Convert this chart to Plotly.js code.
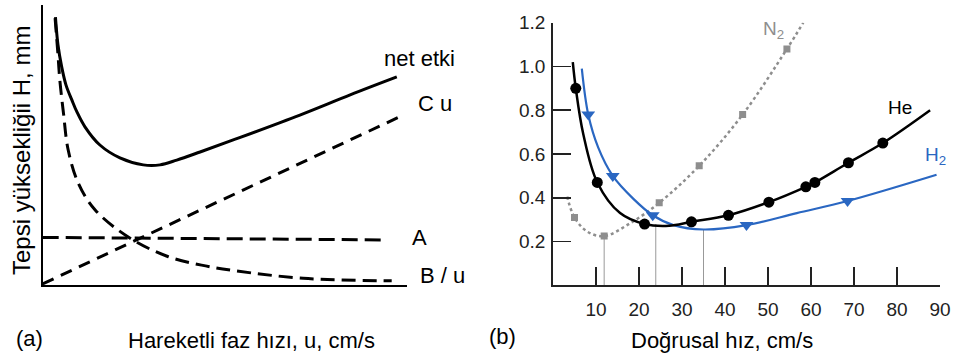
<!DOCTYPE html>
<html>
<head>
<meta charset="utf-8">
<script src="https://cdn.plot.ly/plotly-3.0.1.min.js"></script>
<style>
html,body{margin:0;padding:0;background:#fff;}
#chart{width:956px;height:356px;}
</style>
</head>
<body>
<div id="chart"></div>
<script>
// ---------- Panel (a): conceptual van Deemter terms (arbitrary units) ----------
const aNetU = [0.35,0.42,0.52,0.64,0.80,0.94,1.16,1.57,2.12,2.76,3.22,3.68,4.32,5.23,7.06,8.44,9.72];
const aNetH = [9.57,8.57,7.80,7.14,6.61,6.18,5.65,5.00,4.54,4.29,4.29,4.46,4.75,5.18,6.07,6.79,7.43];
const aBU = [0.34,0.42,0.47,0.57,0.70,0.98,1.44,2.40,3.45,4.36,5.28,7.15,9.58];
const aBH = [9.53,8.21,7.32,6.14,4.82,3.63,2.68,1.67,1.01,0.71,0.51,0.24,0.15];
const aAU = [0, 9.44];
const aAH = [1.70, 1.61];
const aCU = [0, 9.90];
const aCH = [0.04, 6.07];
const aLabels = ["net etki", "C u", "A", "B / u"];

// ---------- Panel (b): measured curves, linear velocity (cm/s) vs H (mm) ----------
const heLineX = [4.6,5.3,7.05,10.3,15.6,21.3,27,32.2,40.8,50.2,58.8,60.9,68.7,76.7,87.7];
const heLineY = [1.02,0.90,0.69,0.47,0.33,0.28,0.272,0.29,0.32,0.38,0.45,0.47,0.56,0.65,0.80];
const heMarkX = [5.3,10.3,21.3,32.2,40.8,50.2,58.8,60.9,68.7,76.7];
const heMarkY = [0.90,0.47,0.28,0.29,0.32,0.38,0.45,0.47,0.56,0.65];

const h2LineX = [6.7,8.2,10.5,13.9,18.7,23.2,28,35,45,56.7,68.5,89.2];
const h2LineY = [0.99,0.78,0.63,0.50,0.395,0.32,0.275,0.255,0.275,0.33,0.385,0.505];
const h2MarkX = [8.2,13.9,23.2,45,68.5];
const h2MarkY = [0.78,0.50,0.32,0.275,0.385];

const n2LineX = [3.3,5.0,8,11.9,17.9,24.7,34,44.1,54.4,58.2];
const n2LineY = [0.405,0.31,0.245,0.225,0.283,0.377,0.546,0.78,1.08,1.2];
const n2MarkX = [5.0,11.9,24.7,34,44.1,54.4];
const n2MarkY = [0.31,0.225,0.377,0.546,0.78,1.08];

// optimum velocity drop lines
const optX = [11.9, 23.9, 35];
const optY = [0.225, 0.28, 0.255];

const bXTicks = [10,20,30,40,50,60,70,80,90];
const bYTicks = [0.2,0.4,0.6,0.8,1.0,1.2];
const bYTickText = ["0.2","0.4","0.6","0.8","1.0","1.2"];

const W = 956, Hh = 356;
const px = x => x / W;
const py = y => 1 - y / Hh;
const FONT = "Liberation Sans, Arial, sans-serif";
const BLUE = "#2a67c2";
const GRAY = "#8e8e8e";

const traces = [];
// panel a
traces.push({x:aNetU, y:aNetH, xaxis:'x', yaxis:'y', mode:'lines', line:{color:'#000', width:3, shape:'spline', smoothing:1}, hoverinfo:'skip'});
traces.push({x:aBU, y:aBH, xaxis:'x', yaxis:'y', mode:'lines', line:{color:'#000', width:3, dash:'14px,7px', shape:'spline', smoothing:1}, hoverinfo:'skip'});
traces.push({x:aAU, y:aAH, xaxis:'x', yaxis:'y', mode:'lines', line:{color:'#000', width:3, dash:'16px,7px'}, hoverinfo:'skip'});
traces.push({x:aCU, y:aCH, xaxis:'x', yaxis:'y', mode:'lines', line:{color:'#000', width:3, dash:'12px,8px'}, hoverinfo:'skip'});

// panel b drop lines
for (let i = 0; i < optX.length; i++) {
  traces.push({x:[optX[i], optX[i]], y:[0, optY[i]], xaxis:'x2', yaxis:'y2', mode:'lines', line:{color:'#999', width:1}, hoverinfo:'skip'});
}
traces.push({x:n2LineX, y:n2LineY, xaxis:'x2', yaxis:'y2', mode:'lines', line:{color:GRAY, width:2.5, dash:'dot', shape:'spline', smoothing:1}, hoverinfo:'skip'});
traces.push({x:n2MarkX, y:n2MarkY, xaxis:'x2', yaxis:'y2', mode:'markers', marker:{symbol:'square', size:7, color:GRAY}, hoverinfo:'skip'});
traces.push({x:h2LineX, y:h2LineY, xaxis:'x2', yaxis:'y2', mode:'lines', line:{color:BLUE, width:2.2, shape:'spline', smoothing:1}, hoverinfo:'skip'});
traces.push({x:h2MarkX, y:h2MarkY, xaxis:'x2', yaxis:'y2', mode:'markers', marker:{symbol:'triangle-down', size:12, color:BLUE}, hoverinfo:'skip'});
traces.push({x:heLineX, y:heLineY, xaxis:'x2', yaxis:'y2', mode:'lines', line:{color:'#000', width:2.5, shape:'spline', smoothing:1}, hoverinfo:'skip'});
traces.push({x:heMarkX, y:heMarkY, xaxis:'x2', yaxis:'y2', mode:'markers', marker:{symbol:'circle', size:11, color:'#000'}, hoverinfo:'skip'});

const ann = (x, y, text, opts) => Object.assign({xref:'paper', yref:'paper', x:px(x), y:py(y), text:text, showarrow:false, xanchor:'left', yanchor:'middle', font:{family:FONT, size:22, color:'#000'}}, opts || {});

const layout = {
  width: W, height: Hh,
  margin:{l:0, r:0, t:0, b:0, pad:0},
  paper_bgcolor:'#fff', plot_bgcolor:'rgba(0,0,0,0)',
  showlegend:false,
  font:{family:FONT, color:'#000'},
  xaxis:{domain:[px(42.7), px(407)], range:[0,10], showline:true, linecolor:'#000', linewidth:2, showgrid:false, zeroline:false, showticklabels:false, ticks:'', fixedrange:true},
  yaxis:{domain:[py(285), py(5)], range:[0,10], showline:true, linecolor:'#000', linewidth:2, showgrid:false, zeroline:false, showticklabels:false, ticks:'', fixedrange:true},
  xaxis2:{domain:[px(553), px(940)], range:[0,90], anchor:'y2', showline:true, linecolor:'#222', linewidth:1.8, showgrid:false, zeroline:false,
    tickmode:'array', tickvals:bXTicks, ticks:'inside', ticklen:18, tickwidth:1.8, tickcolor:'#222',
    tickfont:{family:FONT, size:19, color:'#222'}, ticklabelstandoff:6, fixedrange:true},
  yaxis2:{domain:[py(285.3), py(22.7)], range:[0,1.2], anchor:'x2', showline:true, linecolor:'#222', linewidth:1.8, showgrid:false, zeroline:false,
    tickmode:'array', tickvals:bYTicks, ticktext:bYTickText, ticks:'inside', ticklen:18, tickwidth:1.8, tickcolor:'#222',
    tickfont:{family:FONT, size:19, color:'#222'}, ticklabelstandoff:2, fixedrange:true},
  annotations:[
    ann(21, 151, 'Tepsi yüksekliğii H, mm', {textangle:-90, xanchor:'center', font:{family:FONT, size:24, color:'#000'}}),
    ann(382, 58, aLabels[0]),
    ann(416, 103, aLabels[1]),
    ann(410, 237, aLabels[2]),
    ann(418, 275, aLabels[3]),
    ann(14, 338, '(a)'),
    ann(126, 340, 'Hareketli faz hızı, u, cm/s'),
    ann(487, 336, '(b)'),
    ann(629, 340, 'Doğrusal hız, cm/s'),
    ann(761, 30, 'N<sub>2</sub>', {font:{family:FONT, size:19, color:GRAY}}),
    ann(886, 107, 'He', {font:{family:FONT, size:19, color:'#000'}}),
    ann(923, 156, 'H<sub>2</sub>', {font:{family:FONT, size:19, color:BLUE}})
  ]
};

Plotly.newPlot('chart', traces, layout, {staticPlot:true, displayModeBar:false});
</script>
</body>
</html>
